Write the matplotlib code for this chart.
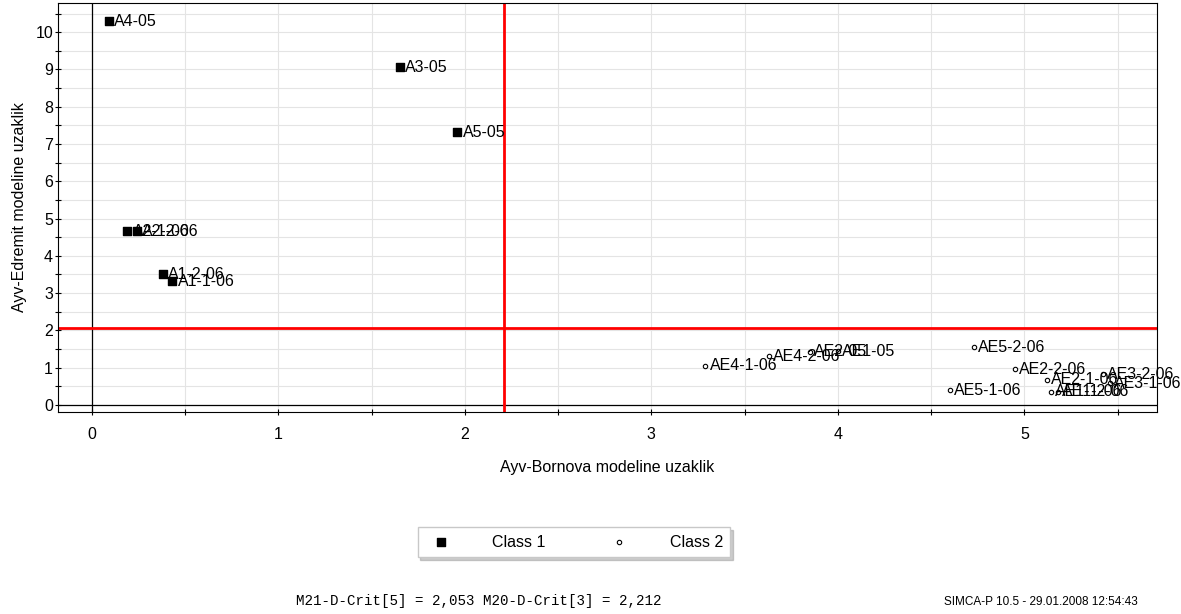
import matplotlib.pyplot as plt
from matplotlib.ticker import MultipleLocator

plt.rcParams['font.family'] = ['Liberation Sans', 'DejaVu Sans']

# Class 1 observations
c1_names = ["A4-05", "A3-05", "A5-05", "A2-1-06", "A2-2-06", "A1-2-06", "A1-1-06"]
c1_x = [0.09, 1.65, 1.96, 0.19, 0.24, 0.38, 0.43]
c1_y = [10.29, 9.06, 7.32, 4.66, 4.66, 3.51, 3.32]

# Class 2 observations
c2_names = ["AE4-1-06", "AE4-2-06", "AE2-05", "AE1-05", "AE5-2-06", "AE2-2-06",
            "AE5-1-06", "AE2-1-06", "AE1-1-06", "AE1-2-06", "AE3-2-06", "AE3-1-06"]
c2_x = [3.29, 3.63, 3.85, 4.00, 4.73, 4.95, 4.60, 5.12, 5.14, 5.18, 5.42, 5.46]
c2_y = [1.05, 1.31, 1.42, 1.44, 1.55, 0.96, 0.40, 0.68, 0.35, 0.35, 0.82, 0.58]

crit_x = 2.212  # M20-D-Crit[3]
crit_y = 2.053  # M21-D-Crit[5]

fig = plt.figure(figsize=(11.81, 6.14), dpi=100)
ax = fig.add_axes([0.049, 0.329, 0.931, 0.666])

ax.set_xlim(-0.182, 5.713)
ax.set_ylim(-0.19, 10.78)
ax.xaxis.set_major_locator(MultipleLocator(1))
ax.xaxis.set_minor_locator(MultipleLocator(0.5))
ax.yaxis.set_major_locator(MultipleLocator(1))
ax.yaxis.set_minor_locator(MultipleLocator(0.5))
ax.set_axisbelow(True)
ax.grid(True, which='both', color='#e4e4e4', lw=0.8)
ax.tick_params(which='both', direction='inout', labelsize=11.5, length=5, width=0.8)
ax.tick_params(axis='x', which='both', pad=8.5)
ax.tick_params(axis='y', which='both', pad=1)

ax.axhline(0, color='black', lw=0.9, zorder=2)
ax.axvline(0, color='black', lw=0.9, zorder=2)
ax.axhline(crit_y, color='#ff0000', lw=2, zorder=2)
ax.axvline(crit_x, color='#ff0000', lw=2, zorder=2)

ax.scatter(c1_x, c1_y, marker='s', s=30, color='black', zorder=3, label='Class 1')
ax.scatter(c2_x, c2_y, marker='o', s=10, facecolor='white', edgecolor='black',
           linewidth=0.8, zorder=3, label='Class 2')

for n, x, y in zip(c1_names, c1_x, c1_y):
    ax.annotate(n, (x, y), xytext=(4, 0), textcoords='offset points',
                va='center', ha='left', fontsize=11.5, zorder=4)
for n, x, y in zip(c2_names, c2_x, c2_y):
    ax.annotate(n, (x, y), xytext=(3, 0), textcoords='offset points',
                va='center', ha='left', fontsize=11.5, zorder=4, annotation_clip=False)

ax.set_xlabel("Ayv-Bornova modeline uzaklik", fontsize=11.5, labelpad=13)
ax.set_ylabel("Ayv-Edremit modeline uzaklik", fontsize=11.5, labelpad=6)

leg = fig.legend(loc='center', bbox_to_anchor=(0.486, 0.117), ncol=2, fontsize=11.5,
                 frameon=True, fancybox=False, edgecolor='#c8c8c8',
                 handlelength=2, handletextpad=2.2, columnspacing=3.6,
                 borderpad=0.45, shadow={'color': '#9a9a9a', 'ox': 2, 'oy': -2})
leg.get_frame().set_linewidth(1.0)

fig.text(0.405, 0.021, "M21-D-Crit[5] = 2,053 M20-D-Crit[3] = 2,212",
         family='Liberation Mono', fontsize=10.2, ha='center', va='center')
fig.text(0.881, 0.019, "SIMCA-P 10.5 - 29.01.2008 12:54:43", fontsize=8.5,
         ha='center', va='center')

fig.savefig("out.png", dpi=100)
